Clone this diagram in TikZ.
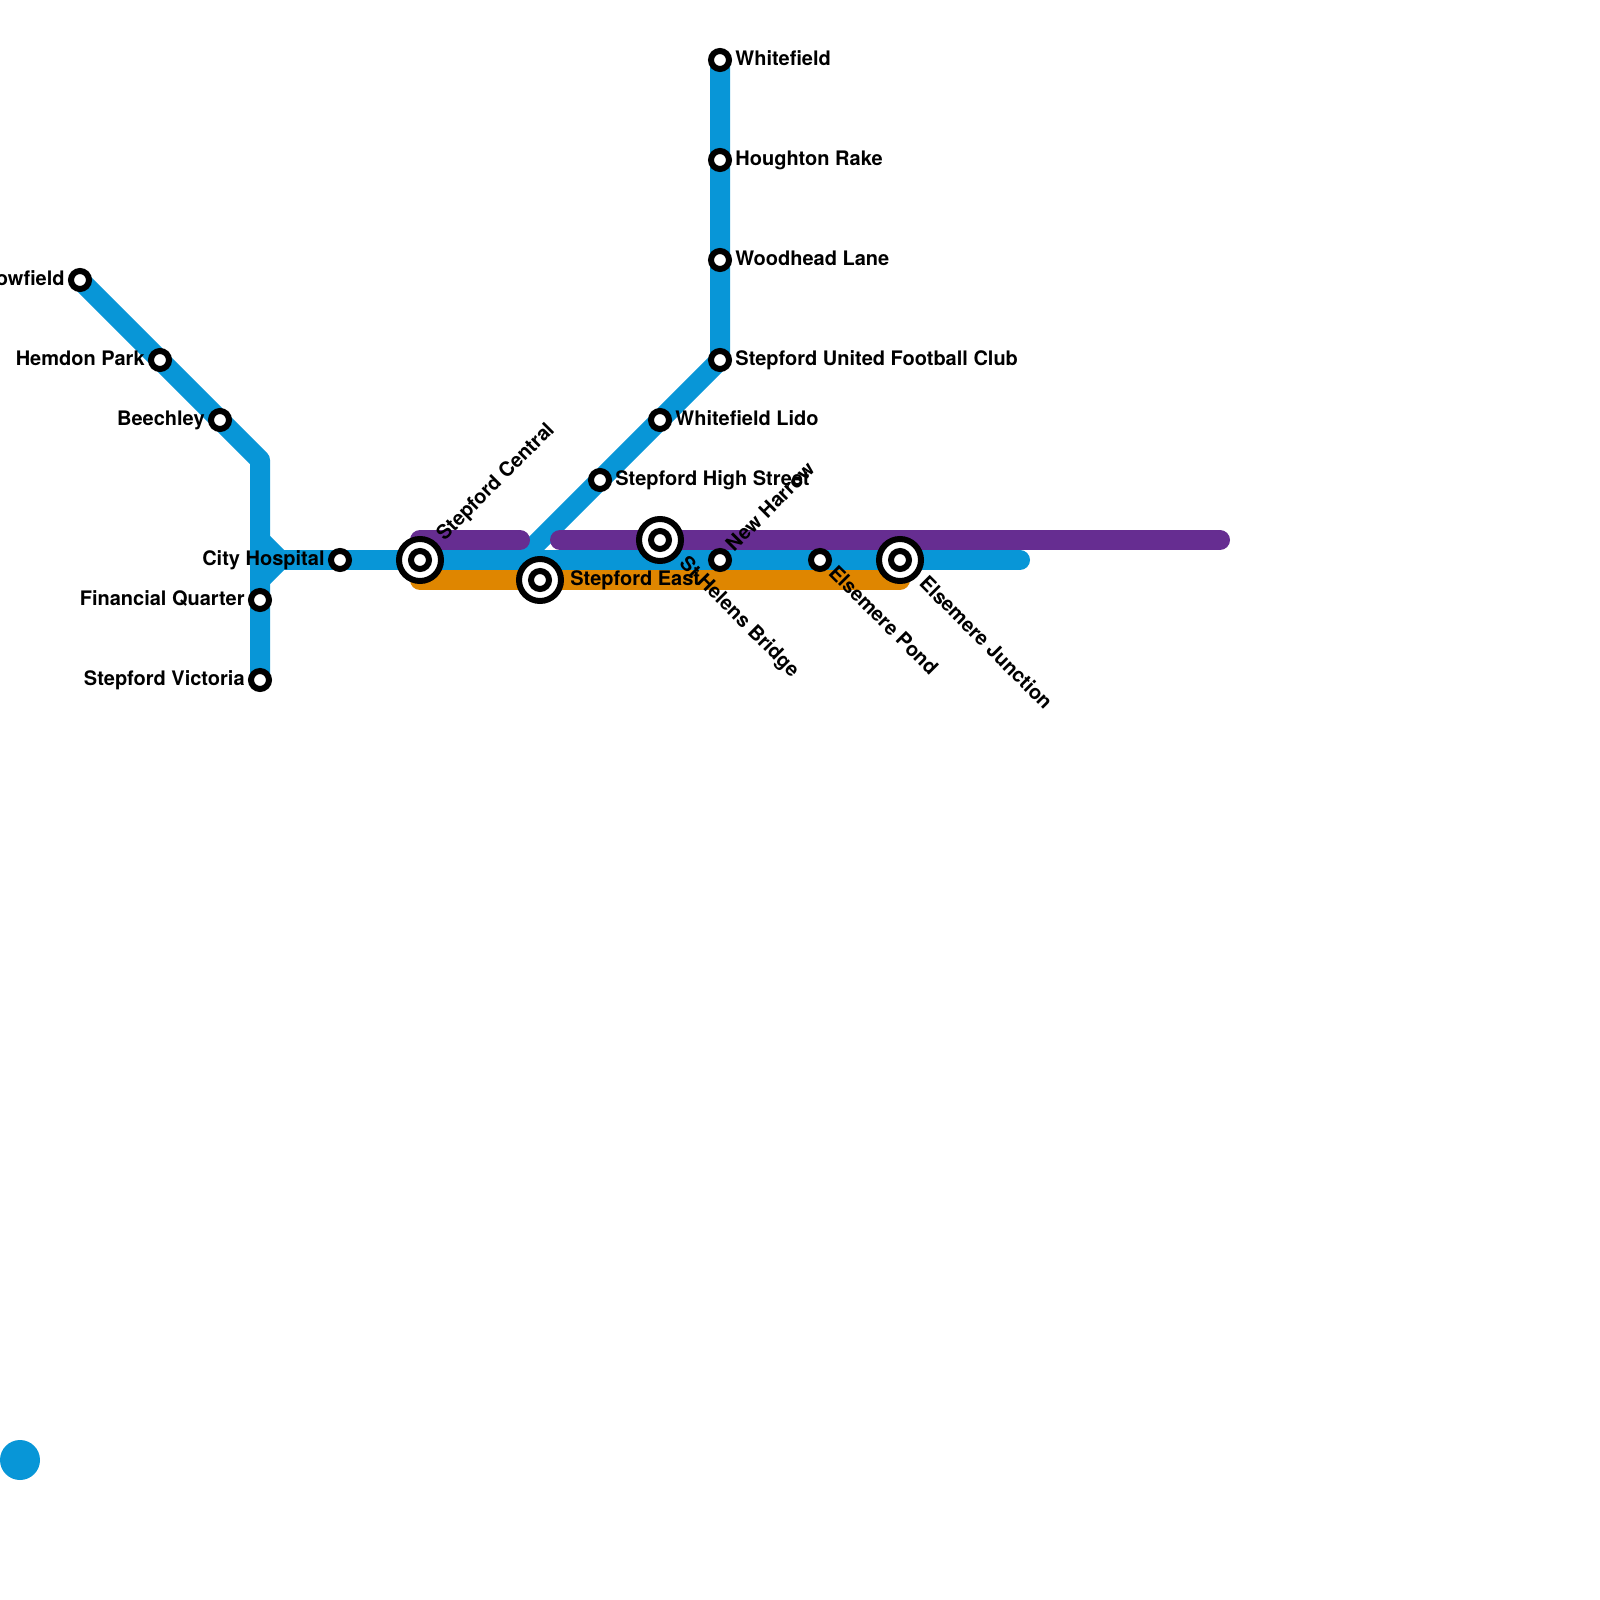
\documentclass[tikz,border=0pt]{standalone}
\usepackage{fontspec}
\setmainfont{TeX Gyre Heros}
\definecolor{lblue}{HTML}{0896D7}
\definecolor{lpurple}{HTML}{662D91}
\definecolor{lorange}{HTML}{DF8600}
\tikzset{
  route/.style={line width=10pt,line cap=round,line join=round},
  stn/.style={circle,draw=black,fill=white,line width=3pt,minimum size=9pt,inner sep=0pt,outer sep=0pt},
  ichouter/.style={circle,draw=black,fill=white,line width=3pt,minimum size=21pt,inner sep=0pt,outer sep=0pt},
  ichinner/.style={circle,draw=black,fill=white,line width=3pt,minimum size=9pt,inner sep=0pt,outer sep=0pt},
  lab/.style={font=\bfseries\fontsize{10}{12}\selectfont,text=black,inner sep=0pt},
  labr/.style={lab,anchor=base west},
  labl/.style={lab,anchor=base east},
  labu/.style={lab,anchor=base west,rotate=45},
  labd/.style={lab,anchor=base west,rotate=-45}
}
\begin{document}
\begin{tikzpicture}[x=0.5pt,y=-0.5pt]
\useasboundingbox (0,0) rectangle (1600,1600);
\clip (0,0) rectangle (1600,1600);
% route coordinates
\coordinate (bend) at (260,460);
\coordinate (vtop) at (260,540);
\coordinate (vbot) at (260,580);
\coordinate (junc) at (280,560);
\coordinate (fork) at (520,560);
\coordinate (bend2) at (540,540);
\coordinate (blueend) at (1020,560);
\coordinate (purpA) at (420,540);
\coordinate (purpB) at (520,540);
\coordinate (purpC) at (560,540);
\coordinate (purpD) at (1220,540);
\coordinate (orA) at (420,580);
\coordinate (orB) at (900,580);
% station positions
\coordinate (pBow) at (80,280);
\coordinate (pHem) at (160,360);
\coordinate (pBee) at (220,420);
\coordinate (pFin) at (260,600);
\coordinate (pVic) at (260,680);
\coordinate (pCit) at (340,560);
\coordinate (pCen) at (420,560);
\coordinate (pEas) at (540,580);
\coordinate (pHel) at (660,540);
\coordinate (pHar) at (720,560);
\coordinate (pPon) at (820,560);
\coordinate (pJun) at (900,560);
\coordinate (pHig) at (600,480);
\coordinate (pLid) at (660,420);
\coordinate (pUtd) at (720,360);
\coordinate (pWoo) at (720,260);
\coordinate (pHou) at (720,160);
\coordinate (pWhi) at (720,60);
% routes
\draw[route,lblue] (pBow) -- (pHem) -- (pBee) -- (bend) -- (vtop) -- (vbot) -- (pFin) -- (pVic);
\draw[route,lblue] (vtop) -- (junc) -- (vbot);
\draw[route,lblue] (junc) -- (pCit) -- (pCen) -- (fork) -- (pHar) -- (pPon) -- (pJun) -- (blueend);
\draw[route,lblue] (fork) -- (bend2) -- (pHig) -- (pLid) -- (pUtd) -- (pWoo) -- (pHou) -- (pWhi);
\draw[route,lorange] (orA) -- (orB);
\draw[route,lpurple] (purpA) -- (purpB);
\draw[route,lpurple] (purpC) -- (purpD);
\fill[lblue] (20,1460) circle[radius=20];
% stations
\foreach \p/\n in {pBow/sBow,pHem/sHem,pBee/sBee,pFin/sFin,pVic/sVic,pCit/sCit,pHar/sHar,pPon/sPon,pHig/sHig,pLid/sLid,pUtd/sUtd,pWoo/sWoo,pHou/sHou,pWhi/sWhi}
  \node[stn] (\n) at (\p) {};
\foreach \p/\n in {pCen/sCen,pEas/sEas,pHel/sHel,pJun/sJun}{
  \node[ichouter] (\n) at (\p) {};
  \node[ichinner] (\n i) at (\p) {};
}
% labels
\node[labl] (lBow) at (65,285.5) {owfield};
\node[labl] (lHem) at (145,365.5) {Hemdon Park};
\node[labl] (lBee) at (205,425.5) {Beechley};
\node[labl] (lCit) at (325,565.5) {City Hospital};
\node[labl] (lFin) at (245,605.5) {Financial Quarter};
\node[labl] (lVic) at (245,685.5) {Stepford Victoria};
\node[labr] (lEas) at (570,585.5) {Stepford East};
\node[labr] (lHig) at (615,485.5) {Stepford High Street};
\node[labr] (lLid) at (675,425.5) {Whitefield Lido};
\node[labr] (lUtd) at (735,365.5) {Stepford United Football Club};
\node[labr] (lWoo) at (735,265.5) {Woodhead Lane};
\node[labr] (lHou) at (735,165.5) {Houghton Rake};
\node[labr] (lWhi) at (735,65.5) {Whitefield};
\node[labu] (lCen) at (444.4,542) {Stepford Central};
\node[labu] (lHar) at (733.8,552.6) {New Harrow};
\node[labd] (lHel) at (678,564.4) {St Helens Bridge};
\node[labd] (lPon) at (827.4,573.8) {Elsemere Pond};
\node[labd] (lJun) at (918,584.4) {Elsemere Junction};
\end{tikzpicture}
\end{document}
